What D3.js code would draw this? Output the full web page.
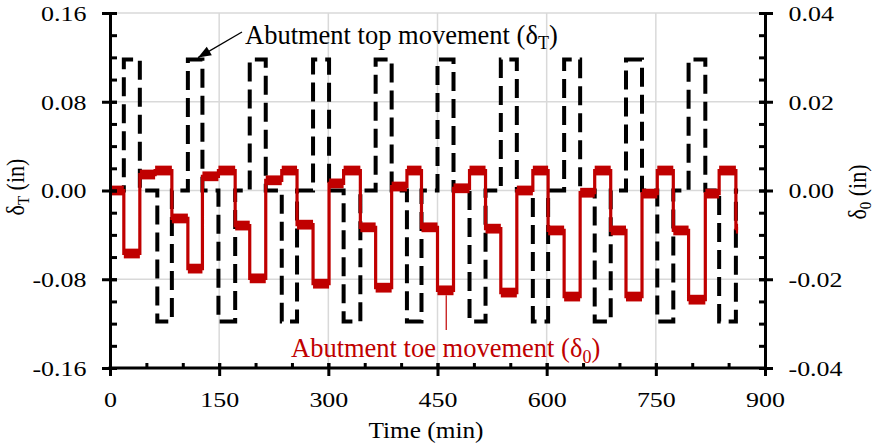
<!DOCTYPE html>
<html><head><meta charset="utf-8">
<script src="https://cdn.jsdelivr.net/npm/d3@7"></script>
<style>body{margin:0;background:#fff} svg{display:block}</style>
</head><body>
<svg id="c" width="878" height="444"></svg>
<script>
// ---------- data ----------
const timeTicks = [0, 150, 300, 450, 600, 750, 900];
const timeMinor = [0, 50, 100, 150, 200, 250, 300, 350, 400, 450, 500, 550, 600, 650, 700, 750, 800, 850, 900];
const topTicks = [-0.16, -0.08, 0, 0.08, 0.16];
const topMinor = [-0.16, -0.14, -0.12, -0.10, -0.08, -0.06, -0.04, -0.02, 0, 0.02, 0.04, 0.06, 0.08, 0.10, 0.12, 0.14, 0.16];
const toeTicks = [-0.04, -0.02, 0, 0.02, 0.04];
const toeMinor = [-0.04, -0.035, -0.03, -0.025, -0.02, -0.015, -0.01, -0.005, 0, 0.005, 0.01, 0.015, 0.02, 0.025, 0.03, 0.035, 0.04];

// Abutment top movement (δT, in) – step starts (min) and levels
const topTimes = [0, 19, 41, 65, 85, 107, 127, 149, 172, 192, 214, 236, 257, 279, 301, 321, 344, 365, 387, 408, 428,
                  450, 472, 494, 516, 537, 559, 581, 602, 624, 646, 666, 688, 709, 731, 752, 774, 795, 818, 837, 860];
const topLevels = [0, 0.118, 0, -0.118, 0, 0.118, 0, -0.118, 0, 0.118, 0, -0.118, 0, 0.118, 0, -0.118, 0, 0.118, 0, -0.118, 0,
                   0.118, 0, -0.118, 0, 0.118, 0, -0.118, 0, 0.118, 0, -0.118, 0, 0.118, 0, -0.118, 0, 0.118, 0, -0.118, 0];
// Abutment toe movement (δ0, in)
const toeTimes = [0, 19, 41, 62, 85, 107, 127, 149, 172, 192, 214, 236, 257, 279, 301, 321, 344, 365, 387, 408, 428,
                  450, 472, 494, 516, 537, 559, 581, 602, 624, 646, 666, 688, 709, 731, 752, 774, 795, 818, 837, 860];
const toeLevels = [0, -0.0142, 0.0036, 0.0045, -0.0063, -0.0176, 0.0032, 0.0045, -0.0079, -0.0198, 0.0023, 0.0045,
                   -0.0077, -0.0210, 0.0016, 0.0045, -0.0083, -0.0219, 0.0009, 0.0045, -0.0083, -0.0225, 0.0005, 0.0045,
                   -0.0086, -0.0230, 0.0000, 0.0045, -0.0090, -0.0239, -0.0005, 0.0045, -0.0090, -0.0239, -0.0007, 0.0045,
                   -0.0090, -0.0246, -0.0007, 0.0045, -0.0086];
const endTime = 863;
const toeNoise = 0.0011;     // half-width of the measured noise band (in)
const topArrowAt = [121, 0.118];
const toeLeaderAt = 462;

// ---------- layout ----------
const F = "'Liberation Serif','Times New Roman',serif";
const RED = "#C00000";
const svg = d3.select("#c");
const x = d3.scaleLinear([0, 900], [110, 765]);
const yL = d3.scaleLinear([-0.16, 0.16], [368, 13]);
const yR = d3.scaleLinear([-0.04, 0.04], [368, 13]);

// grid
const grid = svg.append("g").attr("stroke", "#d9d9d9").attr("stroke-width", 1.5);
grid.selectAll(".gx").data(timeTicks.slice(1, -1)).join("line")
  .attr("x1", d => x(d)).attr("x2", d => x(d)).attr("y1", yL(0.16)).attr("y2", yL(-0.16));
grid.selectAll(".gy").data(topTicks.slice(1)).join("line")
  .attr("y1", d => yL(d)).attr("y2", d => yL(d)).attr("x1", x(0)).attr("x2", x(900));

// series
const stepPts = (ts, vs) => ts.map((t, i) => [t, vs[i]]).concat([[endTime, vs[vs.length - 1]]]);
svg.append("path")
  .attr("d", d3.line().x(d => x(d[0])).y(d => yL(d[1])).curve(d3.curveStepAfter)(stepPts(topTimes, topLevels)))
  .attr("fill", "none").attr("stroke", "#000").attr("stroke-width", 4).attr("stroke-dasharray", "19,8");

const toeG = svg.append("g");
toeG.selectAll("rect").data(toeTimes).join("rect")
  .attr("x", (t) => x(t))
  .attr("width", (t, i) => x(i + 1 < toeTimes.length ? toeTimes[i + 1] : endTime) - x(t))
  .attr("y", (t, i) => yR(toeLevels[i] + toeNoise))
  .attr("height", (t, i) => yR(toeLevels[i] - toeNoise) - yR(toeLevels[i] + toeNoise))
  .attr("fill", RED);
toeG.append("path")
  .attr("d", d3.line().x(d => x(d[0])).y(d => yR(d[1])).curve(d3.curveStepAfter)(stepPts(toeTimes, toeLevels)))
  .attr("fill", "none").attr("stroke", RED).attr("stroke-width", 3.2);

// axes
function styleAxis(g) {
  g.attr("font-family", F).attr("font-size", 22);
  g.selectAll("line").attr("stroke", "#000").attr("stroke-width", 3);
  g.selectAll("path.domain").attr("stroke", "#000").attr("stroke-width", 3);
}
// left
const gl = svg.append("g").attr("transform", `translate(${x(0)},0)`);
gl.call(d3.axisLeft(yL).tickValues(topMinor).tickSize(-7).tickSizeOuter(0).tickFormat(""));
gl.call(g => g.select(".domain").remove());
const gl2 = svg.append("g").attr("transform", `translate(${x(0)},0)`);
gl2.call(d3.axisLeft(yL).tickValues(topTicks).tickSize(8).tickSizeOuter(0).tickFormat(d => d.toFixed(2)));
gl2.selectAll(".tick line").attr("x2", -8).attr("x1", 7);
gl2.selectAll(".tick text").attr("x", null).attr("dy", null).attr("fill", "#000")
  .attr("transform", "translate(-23.5,7.4) scale(1.18,1)");
styleAxis(gl); styleAxis(gl2);

// right
const gr = svg.append("g").attr("transform", `translate(${x(900)},0)`);
gr.call(d3.axisRight(yR).tickValues(toeMinor).tickSize(-6).tickSizeOuter(0).tickFormat(""));
gr.call(g => g.select(".domain").remove());
const gr2 = svg.append("g").attr("transform", `translate(${x(900)},0)`);
gr2.call(d3.axisRight(yR).tickValues(toeTicks).tickSize(8).tickSizeOuter(0).tickFormat(d => d.toFixed(2)));
gr2.selectAll(".tick line").attr("x1", -6);
gr2.selectAll(".tick text").attr("x", null).attr("dy", null).attr("fill", "#000")
  .attr("transform", "translate(23.5,7.4) scale(1.18,1)");
styleAxis(gr); styleAxis(gr2);

// bottom
const gb = svg.append("g").attr("transform", `translate(0,${yL(-0.16)})`);
gb.call(d3.axisBottom(x).tickValues(timeMinor).tickSize(-5).tickSizeOuter(0).tickFormat(""));
gb.call(g => g.select(".domain").remove());
const gb2 = svg.append("g").attr("transform", `translate(0,${yL(-0.16)})`);
gb2.call(d3.axisBottom(x).tickValues(timeTicks).tickSize(8).tickSizeOuter(0).tickFormat(d => d));
gb2.selectAll(".tick line").attr("y1", -5);
gb2.selectAll(".tick text").attr("y", null).attr("dy", null).attr("fill", "#000")
  .attr("transform", "translate(0,39) scale(1.18,1)");
styleAxis(gb); styleAxis(gb2);
gb2.select(".domain").attr("d", `M${x(0) - 1.5},0H${x(900) + 1.5}`);

// axis titles
svg.append("text").attr("font-family", F).attr("font-size", 23).attr("text-anchor", "middle")
  .attr("transform", "translate(426,438) scale(1.1,1)").text("Time (min)");

function subText(sel, main, sub, rest, size) {
  sel.append("tspan").text(main);
  sel.append("tspan").attr("font-size", size * 0.68).attr("dy", size * 0.22).text(sub);
  sel.append("tspan").attr("dy", -size * 0.22).text(rest);
}
const tl = svg.append("text").attr("font-family", F).attr("font-size", 22).attr("text-anchor", "middle")
  .attr("transform", "translate(24,187) scale(1.1,1) rotate(-90)");
subText(tl, "δ", "T", " (in)", 22);
const tr = svg.append("text").attr("font-family", F).attr("font-size", 22).attr("text-anchor", "middle")
  .attr("transform", "translate(866,192) scale(1.1,1) rotate(-90)");
subText(tr, "δ", "0", " (in)", 22);

// annotations
const a1 = svg.append("text").attr("font-family", F).attr("font-size", 26.5)
  .attr("x", 245).attr("y", 43.5);
subText(a1, "Abutment top movement (δ", "T", ")", 26.5);
const tip = [x(topArrowAt[0]), yL(topArrowAt[1]) - 2];
const st = [242, 32];
svg.append("line").attr("x1", st[0]).attr("y1", st[1]).attr("x2", tip[0]).attr("y2", tip[1])
  .attr("stroke", "#000").attr("stroke-width", 1.3);
{
  const dx = tip[0] - st[0], dy = tip[1] - st[1], L = Math.hypot(dx, dy);
  const ux = dx / L, uy = dy / L, len = 13, hw = 5;
  const bx = tip[0] - ux * len, by = tip[1] - uy * len;
  svg.append("polygon").attr("points",
    `${tip[0]},${tip[1]} ${bx - uy * hw},${by + ux * hw} ${bx + uy * hw},${by - ux * hw}`).attr("fill", "#000");
}
const a2 = svg.append("text").attr("font-family", F).attr("font-size", 26.5).attr("fill", RED)
  .attr("x", 291).attr("y", 357);
subText(a2, "Abutment toe movement (δ", "0", ")", 26.5);
svg.append("line").attr("x1", x(toeLeaderAt)).attr("x2", x(toeLeaderAt))
  .attr("y1", yR(-0.0225 - toeNoise)).attr("y2", 330).attr("stroke", RED).attr("stroke-width", 1.2);
</script>
</body></html>
